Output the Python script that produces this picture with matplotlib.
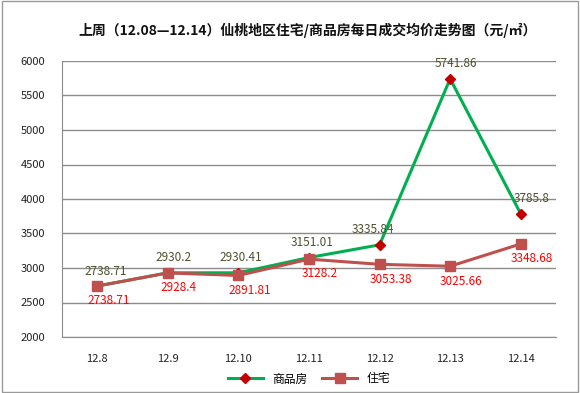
import matplotlib.pyplot as plt
from matplotlib.patches import Rectangle

plt.rcParams['font.family'] = ['Noto Sans CJK SC', 'DejaVu Sans']

days = ['12.8', '12.9', '12.10', '12.11', '12.12', '12.13', '12.14']
shangpinfang = [2738.71, 2930.2, 2930.41, 3151.01, 3335.84, 5741.86, 3785.8]
zhuzhai = [2738.71, 2928.4, 2891.81, 3128.2, 3053.38, 3025.66, 3348.68]
sp_labels = ['2738.71', '2930.2', '2930.41', '3151.01', '3335.84', '5741.86', '3785.8']
zz_labels = ['2738.71', '2928.4', '2891.81', '3128.2', '3053.38', '3025.66', '3348.68']

fig = plt.figure(figsize=(5.8, 3.93), dpi=100)
ax = fig.add_axes([62/580, 1-337/393, 494/580, 276/393])
fig.patches.append(Rectangle((0.003, 0.003), 0.994, 0.994, transform=fig.transFigure,
                             fill=False, edgecolor='#9a9a9a', lw=1))

x = range(len(days))
ax.plot(x, shangpinfang, color='#00B050', lw=2.2, marker='D', ms=5,
        mfc='#C00000', mec='#C00000', label='商品房', zorder=2)
ax.plot(x, zhuzhai, color='#C0504D', lw=2.2, marker='s', ms=7,
        mfc='#C0504D', mec='#C0504D', label='住宅', zorder=3)

sp_dx = [6, 4, 2, 2, -5, 4, 8]
for i, v in enumerate(shangpinfang):
    ax.annotate(sp_labels[i], (i, v), xytext=(sp_dx[i], 6), textcoords='offset points',
                ha='center', va='bottom', fontsize=8.5, color='#4F4F2F')
for i, v in enumerate(zhuzhai):
    ax.annotate(zz_labels[i], (i, v), xytext=(8, -6), textcoords='offset points',
                ha='center', va='top', fontsize=8.5, color='#FF0000')

ax.set_xlim(-0.5, 6.5)
ax.set_ylim(2000, 6000)
ax.set_yticks(range(2000, 6001, 500))
ax.set_xticks(list(x))
ax.set_xticklabels(days)
ax.yaxis.grid(True, color='#8c8c8c', lw=1)
ax.set_axisbelow(True)
for s in ['top', 'right']:
    ax.spines[s].set_visible(False)
for s in ['left', 'bottom']:
    ax.spines[s].set_color('#8c8c8c')
ax.tick_params(length=0, labelsize=8, colors='#222222')
ax.tick_params(axis='x', pad=12)
ax.tick_params(axis='y', pad=12)

fig.text(0.531, 0.923, '上周（12.08—12.14）仙桃地区住宅/商品房每日成交均价走势图（元/㎡）',
         ha='center', va='center', fontsize=10, fontweight='bold', color='#111111')
ax.legend(loc='upper center', bbox_to_anchor=(0.5, -0.09), ncol=2, frameon=False,
          fontsize=8.5, handlelength=3, columnspacing=1.2)

fig.savefig('out.png', dpi=100)
